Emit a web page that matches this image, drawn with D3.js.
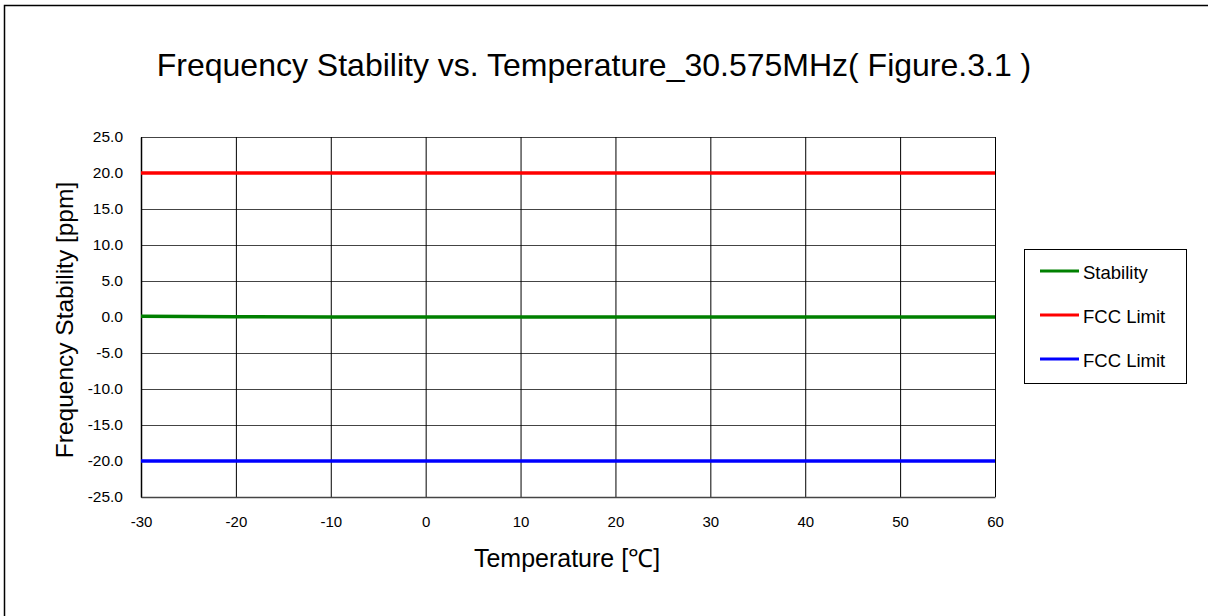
<!DOCTYPE html>
<html>
<head>
<meta charset="utf-8">
<script src="https://d3js.org/d3.v7.min.js"></script>
<style>
  body { margin: 0; background: #fff; }
  text { font-family: "Liberation Sans", Arial, sans-serif; fill: #000; }
</style>
</head>
<body>
<script>
// chart data
var temps = [-30, -20, -10, 0, 10, 20, 30, 40, 50, 60];
var stability = [0.1, 0.05, 0.0, 0.0, 0.0, 0.0, 0.0, 0.0, 0.0, 0.0];
var fccUpper = [20, 20, 20, 20, 20, 20, 20, 20, 20, 20];
var fccLower = [-20, -20, -20, -20, -20, -20, -20, -20, -20, -20];
var xTicks = [-30, -20, -10, 0, 10, 20, 30, 40, 50, 60];
var yTicks = [-25, -20, -15, -10, -5, 0, 5, 10, 15, 20, 25];
var seriesNames = ['Stability', 'FCC Limit', 'FCC Limit'];
var seriesColors = ['#008000', '#ff0000', '#0000ff'];

var W = 1208, H = 616;
var svg = d3.select('body').append('svg')
    .attr('width', W).attr('height', H);

// outer frame
svg.append('path')
    .attr('d', 'M4.5,' + H + 'V5.5H' + W)
    .attr('fill', 'none').attr('stroke', '#000').attr('stroke-width', 1.5);

var pLeft = 141, pRight = 995, pTop = 137, pBottom = 497;
var x = d3.scaleLinear().domain([-30, 60]).range([pLeft, pRight]);
var y = d3.scaleLinear().domain([-25, 25]).range([pBottom, pTop]);

// horizontal grid
svg.append('g').selectAll('line').data(yTicks).enter().append('line')
    .attr('x1', pLeft).attr('x2', pRight)
    .attr('y1', function(d){ return y(d) + 0.5; })
    .attr('y2', function(d){ return y(d) + 0.5; })
    .attr('stroke', '#444').attr('stroke-width', 1);

// vertical grid
svg.append('g').selectAll('line').data(xTicks).enter().append('line')
    .attr('y1', pTop).attr('y2', pBottom)
    .attr('x1', function(d){ return x(d) + 0.5; })
    .attr('x2', function(d){ return x(d) + 0.5; })
    .attr('stroke', '#000').attr('stroke-width', 1);

// axes
var yAxis = d3.axisLeft(y).tickValues(yTicks).tickSize(0).tickPadding(18)
    .tickFormat(function(d){ return d.toFixed(1); });
var gy = svg.append('g').attr('transform', 'translate(' + pLeft + ',0)').call(yAxis);
gy.select('.domain').attr('stroke', '#000').attr('stroke-width', 1.5);
gy.selectAll('text').style('font-size', '15.5px').style('font-family', '"Liberation Sans", Arial, sans-serif');

var xAxis = d3.axisBottom(x).tickValues(xTicks).tickSize(0).tickPadding(19)
    .tickFormat(function(d){ return String(d); });
var gx = svg.append('g').attr('transform', 'translate(0,' + pBottom + ')').call(xAxis);
gx.select('.domain').attr('stroke', '#444').attr('stroke-width', 1.5);
gx.selectAll('text').style('font-size', '15px').style('font-family', '"Liberation Sans", Arial, sans-serif');

// series
var line = d3.line()
    .x(function(d){ return x(d[0]); })
    .y(function(d){ return y(d[1]); });
[stability, fccUpper, fccLower].forEach(function(vals, i){
    svg.append('path')
        .datum(temps.map(function(t, j){ return [t, vals[j]]; }))
        .attr('d', line)
        .attr('fill', 'none')
        .attr('stroke', seriesColors[i])
        .attr('stroke-width', 3.5);
});

// title and axis labels
svg.append('text').attr('x', 594).attr('y', 76).attr('text-anchor', 'middle')
    .style('font-size', '32px')
    .text('Frequency Stability vs. Temperature_30.575MHz( Figure.3.1 )');
svg.append('text').attr('x', 567).attr('y', 567).attr('text-anchor', 'middle')
    .style('font-size', '25px')
    .text('Temperature [\u2103]');
svg.append('text').attr('transform', 'translate(73,320) rotate(-90)')
    .attr('text-anchor', 'middle')
    .style('font-size', '24.5px')
    .text('Frequency Stability [ppm]');

// legend
var lg = svg.append('g');
lg.append('rect').attr('x', 1024.5).attr('y', 249.5).attr('width', 162).attr('height', 134)
    .attr('fill', '#fff').attr('stroke', '#000').attr('stroke-width', 1);
seriesNames.forEach(function(name, i){
    var yy = 271 + i * 44;
    lg.append('line').attr('x1', 1040).attr('x2', 1079).attr('y1', yy).attr('y2', yy)
        .attr('stroke', seriesColors[i]).attr('stroke-width', 3);
    lg.append('text').attr('x', 1083).attr('y', yy + 8)
        .style('font-size', '18.5px').text(name);
});
</script>
</body>
</html>
